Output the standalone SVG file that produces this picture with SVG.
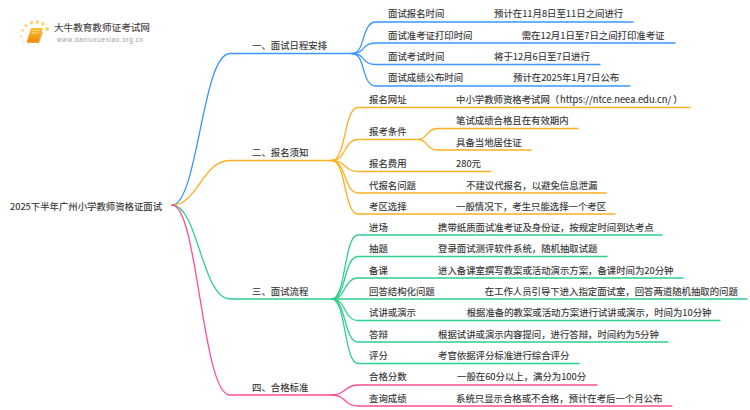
<svg xmlns="http://www.w3.org/2000/svg" width="750" height="410" viewBox="0 0 750 410">
<style>
text{font-family:"Noto Sans CJK SC","Noto Sans",sans-serif;font-size:9.4px;fill:#333;stroke:#333;stroke-width:.12px}
.c{fill:none;stroke-width:1.3;stroke-linecap:round}
.b{stroke:#3a96ff}.o{stroke:#fdb022}.g{stroke:#2fcf8c}.p{stroke:#ff4d94}
.d{fill:#ffd36b}
</style>
<defs><linearGradient id="bk" x1="0" y1="0" x2="0" y2="1"><stop offset="0" stop-color="#ffc02e"/><stop offset="1" stop-color="#f08a0c"/></linearGradient></defs>
<rect width="750" height="410" fill="#fff"/>
<g id="connectors">
<path class="c b" d="M172 205C198 205 202 53.5 230 53.5H352"/>
<path class="c o" d="M172 205C198 205 202 160.5 230 160.5H332"/>
<path class="c g" d="M172 205C198 205 202 299 230 299H332"/>
<path class="c p" d="M172 205C198 205 202 395 230 395H332"/>
<g>
<path class="c b" d="M352 53.5C366 53.5 361 22 376 22H633"/>
<path class="c b" d="M352 53.5C366 53.5 361 43 376 43H675"/>
<path class="c b" d="M352 53.5C366 53.5 361 64.500 376 64.500H600"/>
<path class="c b" d="M352 53.5C366 53.5 361 86 376 86H630"/>
</g>
<g>
<path class="c o" d="M332 160.500C346 160.500 344 107.500 358 107.500H690"/>
<path class="c o" d="M332 160.500C346 160.500 344 139.500 358 139.500H418"/>
<path class="c o" d="M332 160.500C346 160.500 344 171.500 358 171.500H491"/>
<path class="c o" d="M332 160.500C346 160.500 344 193 358 193H606"/>
<path class="c o" d="M332 160.500C346 160.500 344 214 358 214H615"/>
<path class="c o" d="M418 139.500C428 139.500 426 128.500 438 128.500H578"/>
<path class="c o" d="M418 139.500C428 139.500 426 150 438 150H531"/>
</g>
<g>
<path class="c g" d="M332 299C346 299 344 235 358 235H662"/>
<path class="c g" d="M332 299C346 299 344 256.500 358 256.500H607"/>
<path class="c g" d="M332 299C346 299 344 278 358 278H683"/>
<path class="c g" d="M332 299H747"/>
<path class="c g" d="M332 299C346 299 344 320.500 358 320.500H720"/>
<path class="c g" d="M332 299C346 299 344 342 358 342H668"/>
<path class="c g" d="M332 299C346 299 344 363.500 358 363.500H579"/>
</g>
<g>
<path class="c p" d="M332 395C346 395 344 385 358 385H597"/>
<path class="c p" d="M332 395C346 395 344 406 358 406H672"/>
</g>
</g>
<g id="logo">
<circle class="d" cx="47" cy="29" r="2"/><circle class="d" cx="43" cy="24" r="1.800"/><circle class="d" cx="37.500" cy="22" r="1.800"/><circle class="d" cx="31.500" cy="22.800" r="1.800"/><circle class="d" cx="26" cy="25.800" r="1.500"/><circle class="d" cx="22.500" cy="30.500" r="1.300"/><circle class="d" cx="21.500" cy="36.500" r="1.100"/><circle class="d" cx="23.500" cy="42.500" r="1" opacity=".6"/>
<path d="M31 28H43L38.500 41H27Z" fill="url(#bk)"/>
<path d="M27 41H38.500L42 31.500L43 32L39 43H29Q26.500 43 27 41Z" fill="#f59a1c"/>
<path d="M32.500 30.500H40M31.800 33H39.300" stroke="#ffe29a" stroke-width=".9" fill="none"/>
<text x="54" y="30.500" style="font-size:9.600px;fill:#444;stroke:#444">大牛教育教师证考试网</text>
<text x="57" y="41.500" style="font-family:'Liberation Sans',sans-serif;font-size:6.400px;letter-spacing:.62px;fill:#999;stroke:none">www.daniuxuexiao.org.cn</text>
</g>
<g id="root"><text x="10" y="209.500">2025下半年广州小学教师资格证面试</text></g>
<g id="b1"><text x="252" y="49">一、面试日程安排</text></g>
<g id="b2"><text x="252" y="155.500">二、报名须知</text></g>
<g id="b3"><text x="252" y="294.500">三、面试流程</text></g>
<g id="b4"><text x="252" y="390.500">四、合格标准</text></g>
<g id="n1"><text x="388" y="17">面试报名时间</text><text x="494" y="17">预计在11月8日至11日之间进行</text></g>
<g id="n2"><text x="388" y="38.500">面试准考证打印时间</text><text x="521.700" y="38.500">需在12月1日至7日之间打印准考证</text></g>
<g id="n3"><text x="388" y="59.500">面试考试时间</text><text x="494" y="59.500">将于12月6日至7日进行</text></g>
<g id="n4"><text x="388" y="81">面试成绩公布时间</text><text x="513" y="81">预计在2025年1月7日公布</text></g>
<g id="n5"><text x="369" y="102.500">报名网址</text><text x="456" y="102.500">中小学教师资格考试网（<tspan x="560">https://ntce.neea.edu.cn/</tspan><tspan dx="2">）</tspan></text></g>
<g id="n6"><text x="369" y="134.500">报考条件</text><text x="456" y="123.500">笔试成绩合格且在有效期内</text><text x="456" y="145.500">具备当地居住证</text></g>
<g id="n7"><text x="369" y="166.500">报名费用</text><text x="456" y="166.500">280元</text></g>
<g id="n8"><text x="369" y="188.500">代报名问题</text><text x="466" y="188.500">不建议代报名，以避免信息泄漏</text></g>
<g id="n9"><text x="369" y="209.500">考区选择</text><text x="456" y="209.500">一般情况下，考生只能选择一个考区</text></g>
<g id="n10"><text x="369" y="230.500">进场</text><text x="438" y="230.500">携带纸质面试准考证及身份证，按规定时间到达考点</text></g>
<g id="n11"><text x="369" y="252">抽题</text><text x="438" y="252">登录面试测评软件系统，随机抽取试题</text></g>
<g id="n12"><text x="369" y="273.500">备课</text><text x="438" y="273.500">进入备课室撰写教案或活动演示方案，备课时间为20分钟</text></g>
<g id="n13"><text x="369" y="294.500">回答结构化问题</text><text x="484.700" y="294.500">在工作人员引导下进入指定面试室，回答两道随机抽取的问题</text></g>
<g id="n14"><text x="369" y="316">试讲或演示</text><text x="466.700" y="316">根据准备的教案或活动方案进行试讲或演示，时间为10分钟</text></g>
<g id="n15"><text x="369" y="337.500">答辩</text><text x="438" y="337.500">根据试讲或演示内容提问，进行答辩，时间约为5分钟</text></g>
<g id="n16"><text x="369" y="358.500">评分</text><text x="438" y="358.500">考官依据评分标准进行综合评分</text></g>
<g id="n17"><text x="369" y="380">合格分数</text><text x="457" y="380">一般在60分以上，满分为100分</text></g>
<g id="n18"><text x="369" y="401.500">查询成绩</text><text x="456" y="401.500">系统只显示合格或不合格，预计在考后一个月公布</text></g>
</svg>
